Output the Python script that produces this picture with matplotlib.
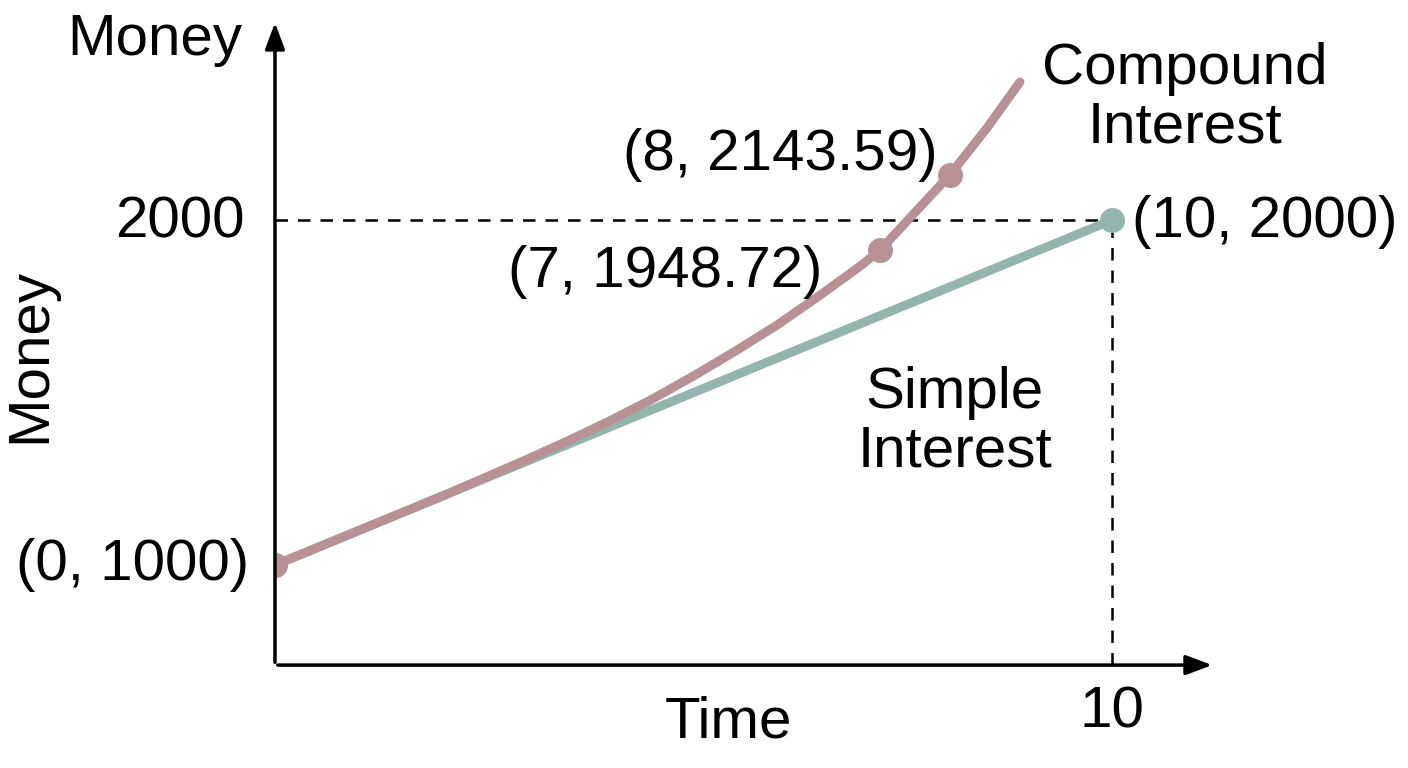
import matplotlib.pyplot as plt

# data (schematic)
simple_x = [0, 10]
simple_y = [1000, 2000]
comp_x = [0, 1, 2, 3, 3.5, 4, 4.5, 5, 5.5, 6, 6.5, 7, 7.23, 7.6, 8.06, 8.5, 8.9]
comp_y = [1000, 1100, 1200, 1305, 1360, 1418, 1480, 1548, 1620, 1696, 1780,
          1868, 1913, 2010, 2130, 2265, 2400]
comp_pts_x = [7.23, 8.06]
comp_pts_y = [1913, 2130]

pink = '#b89196'
green = '#93b5ad'

plt.rcParams['font.family'] = ['Liberation Sans', 'DejaVu Sans']

fig = plt.figure(figsize=(14.08, 7.68), dpi=100)
ax = fig.add_axes([0.1953, 0.134, 0.6676, 0.84])
ax.set_xlim(0, 11.23)
ax.set_ylim(710, 2580)
ax.axis('off')

# axes with arrows
arrow = dict(arrowstyle='-|>,head_length=1.6,head_width=0.6', lw=2.5, color='black')
ax.annotate('', xy=(11.23, 710), xytext=(0, 710), arrowprops=arrow)
ax.annotate('', xy=(0, 2580), xytext=(0, 710), arrowprops=arrow)

# dashed guides
ax.plot([0, 10], [2000, 2000], color='black', lw=1.8, dashes=(5, 4))
ax.plot([10, 10], [710, 2000], color='black', lw=1.8, dashes=(5, 4))

ax.plot(simple_x, simple_y, color=green, lw=6.5, solid_capstyle='round')
ax.plot(comp_x, comp_y, color=pink, lw=6.5, solid_capstyle='round', solid_joinstyle='round')
ax.plot([10], [2000], 'o', color=green, ms=17)
ax.plot([0], [1000], 'o', color=pink, ms=17)
ax.plot(comp_pts_x, comp_pts_y, 'o', color=pink, ms=17)

fs = 42
fig.text(155/1408, 1 - 40/768, 'Money', fontsize=fs, ha='center', va='center')
fig.text(30/1408, 1 - 355/768, 'Money', fontsize=fs, ha='center', va='center', rotation=90)
fig.text(245/1408, 1 - 222/768, '2000', fontsize=fs, ha='right', va='center')
fig.text(728/1408, 1 - 722/768, 'Time', fontsize=fs, ha='center', va='center')
fig.text(1112/1408, 1 - 712/768, '10', fontsize=fs, ha='center', va='center')
fig.text(133/1408, 1 - 565/768, '(0, 1000)', fontsize=fs, ha='center', va='center')
fig.text(1265/1408, 1 - 222/768, '(10, 2000)', fontsize=fs, ha='center', va='center')
fig.text(665/1408, 1 - 272/768, '(7, 1948.72)', fontsize=fs, ha='center', va='center')
fig.text(780/1408, 1 - 155/768, '(8, 2143.59)', fontsize=fs, ha='center', va='center')
fig.text(1185/1408, 1 - 98/768, 'Compound\nInterest', fontsize=fs, ha='center', va='center',
         linespacing=1.1)
fig.text(955/1408, 1 - 422/768, 'Simple\nInterest', fontsize=fs, ha='center', va='center',
         linespacing=1.1)

fig.savefig('out.png', dpi=100)
